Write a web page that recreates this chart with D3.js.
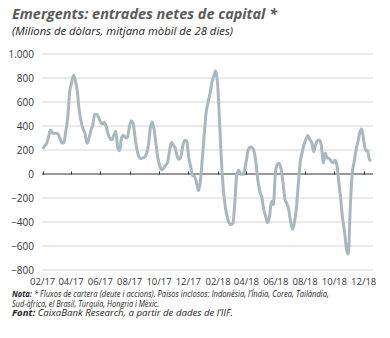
<!DOCTYPE html>
<html>
<head>
<meta charset="utf-8">
<script src="https://cdn.jsdelivr.net/npm/d3@7"></script>
<style>
  body { margin: 0; background: #fff; }
  svg { display: block; font-family: "Open Sans", sans-serif; }
</style>
</head>
<body>
<div id="chart"></div>
<script>
// 28-day moving average, one reading every 4 days from 1 Feb 2017
const startDate = '2017-02-01';
const stepDays = 4;
const flows = [
  210, 235, 254, 303, 367, 344, 338, 340, 333, 296, 258, 260, 358, 466, 680, 758,
  820, 780, 690, 530, 440, 376, 338, 257, 292, 357, 405, 493, 498, 475, 437, 416,
  430, 398, 332, 296, 285, 326, 356, 226, 193, 298, 323, 304, 300, 384, 444, 425,
  311, 206, 145, 128, 135, 141, 169, 238, 384, 434, 364, 240, 128, 62, 35, 51,
  73, 97, 196, 264, 240, 213, 145, 122, 153, 242, 282, 271, 135, 60, -13, -21,
  -71, -138, -65, 118, 320, 512, 592, 668, 760, 813, 860, 750, 440, 100, -130, -275,
  -358, -410, -422, -410, -222, -3, 31, 0, -3, 27, 118, 206, 224, 217, 188, 86,
  -58, -148, -195, -298, -352, -405, -355, -230, -254, -4, 78, 90, 43, -68, -210, -247,
  -295, -400, -460, -400, -285, -80, 102, 180, 248, 293, 320, 285, 260, 187, 244, 280,
  283, 235, 94, 173, 132, 130, 105, 94, 115, 80, -60, -206, -368, -477, -622, -668,
  -280, 0, 100, 200, 270, 348, 376, 280, 200, 193, 120, 110
];
const yTicks = [-800, -600, -400, -200, 0, 200, 400, 600, 800, 1000];
const xTickStart = '2017-02-01';
const xTickEnd = '2018-12-01';

const title = 'Emergents: entrades netes de capital *';
const subtitle = '(Milions de dòlars, mitjana mòbil de 28 dies)';
const notes = [
  [['Nota:', true], [' * Fluxos de cartera (deute i accions). Països inclosos: Indonèsia, l’Índia, Corea, Tailàndia,', false]],
  [['Sud-àfrica, el Brasil, Turquia, Hongria i Mèxic.', false]],
  [['Font:', true], [' CaixaBank Research, a partir de dades de l’IIF.', false]]
];
const noteWidths = [317, 147, 221];

const W = 390, H = 338;
const parse = d3.timeParse('%Y-%m-%d');
const t0 = parse(startDate);
const data = flows.map((v, i) => ({ date: d3.timeDay.offset(t0, i * stepDays), value: v }));

const svg = d3.select('#chart').append('svg').attr('width', W).attr('height', H);

// Title block
svg.append('text')
  .attr('x', 12).attr('y', 19)
  .attr('font-size', 15).attr('font-weight', 700).attr('font-style', 'italic')
  .attr('fill', '#5a5a5a')
  .attr('textLength', 265).attr('lengthAdjust', 'spacingAndGlyphs')
  .text(title);
svg.append('text')
  .attr('x', 12).attr('y', 35)
  .attr('font-size', 11.5).attr('font-style', 'italic')
  .attr('fill', '#222')
  .attr('textLength', 221).attr('lengthAdjust', 'spacingAndGlyphs')
  .text(subtitle);

const x = d3.scaleTime()
  .domain([parse(xTickStart), parse(xTickEnd)])
  .range([42.7, 363.7]);
const y = d3.scaleLinear().domain([-800, 1000]).range([270, 54]);

const fmtY = d => d3.format(',')(d).replace(/,/g, '.');

// Grid lines
const gridX0 = 42, gridX1 = 373;
svg.append('g').selectAll('line')
  .data(yTicks.filter(d => d !== 0))
  .join('line')
  .attr('x1', gridX0).attr('x2', gridX1)
  .attr('y1', d => y(d)).attr('y2', d => y(d))
  .attr('stroke', '#d6d6d6').attr('stroke-width', 1);

// Y labels
svg.append('g').selectAll('text')
  .data(yTicks)
  .join('text')
  .attr('x', 34).attr('y', d => y(d))
  .attr('dy', '0.35em')
  .attr('text-anchor', 'end')
  .attr('font-size', 10).attr('fill', '#333')
  .text(fmtY);

// Zero axis with ticks every two months from Feb 2017
const xTicks = d3.timeMonth.range(parse(xTickStart), d3.timeDay.offset(parse(xTickEnd), 1), 2);
svg.append('line')
  .attr('x1', gridX0).attr('x2', gridX1)
  .attr('y1', y(0)).attr('y2', y(0))
  .attr('stroke', '#333').attr('stroke-width', 1);
svg.append('g').selectAll('line')
  .data(xTicks)
  .join('line')
  .attr('x1', d => Math.round(x(d)) + 0.5).attr('x2', d => Math.round(x(d)) + 0.5)
  .attr('y1', y(0) - 2.5).attr('y2', y(0) + 0.5)
  .attr('stroke', '#333').attr('stroke-width', 1);

// X labels
svg.append('g').selectAll('text')
  .data(xTicks)
  .join('text')
  .attr('x', d => x(d)).attr('y', 285)
  .attr('text-anchor', 'middle')
  .attr('font-size', 9.5).attr('fill', '#333')
  .text(d3.timeFormat('%m/%y'));

// Series
const line = d3.line().x(d => x(d.date)).y(d => y(d.value)).curve(d3.curveMonotoneX);
svg.append('path')
  .datum(data)
  .attr('d', line)
  .attr('fill', 'none')
  .attr('stroke', '#a9b7be')
  .attr('stroke-width', 3)
  .attr('stroke-linejoin', 'round');

// Notes
notes.forEach((row, i) => {
  const t = svg.append('text')
    .attr('x', 12).attr('y', 297 + i * 9.5)
    .attr('font-size', 8.4).attr('font-style', 'italic').attr('fill', '#222')
    .attr('textLength', noteWidths[i]).attr('lengthAdjust', 'spacingAndGlyphs');
  row.forEach(([txt, bold]) => {
    t.append('tspan').attr('font-weight', bold ? 700 : 400).text(txt);
  });
});
</script>
</body>
</html>
